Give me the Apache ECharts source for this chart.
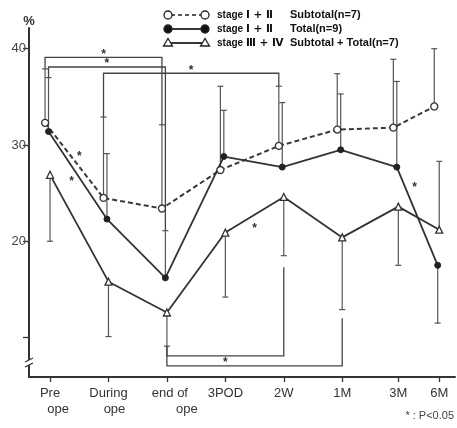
<!DOCTYPE html>
<html><head><meta charset="utf-8">
<script src="https://cdn.jsdelivr.net/npm/echarts@6/dist/echarts.min.js"></script>
<style>html,body{margin:0;padding:0;background:#fff}#c{width:457px;height:428px}</style>
</head><body><div id="c"></div>
<script>
const categories = ['Pre\nope', 'During\nope', 'end of\nope', '3POD', '2W', '1M', '3M', '6M'];
const catPos = [0, 1, 2, 3, 4, 5, 5.96, 6.66];
const yTickValues = [10, 20, 30, 40];
const yLabelValues = [20, 30, 40];
const sub12 = [32.3, 24.5, 23.4, 27.4, 29.9, 31.6, 31.8, 34.0];
const sub12Err = [37.9, 32.9, 32.1, 36.1, 36.1, 37.4, 38.9, 40.0];
const tot12 = [31.4, 22.3, 16.2, 28.8, 27.7, 29.5, 27.7, 17.5];
const tot12Err = [37.0, 29.1, 21.1, 33.6, 34.4, 35.3, 36.6, 11.5];
const st34 = [26.9, 15.8, 12.6, 20.9, 24.6, 20.4, 23.6, 21.2];
const st34Err = [20.0, 10.1, 9.1, 14.2, 18.5, 12.9, 17.5, 28.3];
const brackets = [
  {s: 'sub', from: 0, to: 2, level: 39.1, left: 37.9, right: 32.1, star: 'above'},
  {s: 'tot', from: 0, to: 2, level: 38.1, left: 37.0, right: 21.1, star: 'above'},
  {s: 'sub', from: 1, to: 4, level: 37.45, left: 32.9, right: 36.1, star: 'above'},
  {s: 'st', from: 2, to: 4, level: 8.09, left: 9.1, right: 17.3, star: 'below'},
  {s: 'st', from: 2, to: 5, level: 7.05, left: 9.1, right: 12.0, star: null}
];
const segStars = [[0.5, 29.0], [0.37, 26.4], [3.5, 21.5], [6.24, 25.8]];

const OFF = {sub: -0.085, tot: -0.026, st: 0.0};
const INK = '#333';
const chart = echarts.init(document.getElementById('c'));

function labelFmt(v) {
  const i = catPos.findIndex(p => Math.abs(p - v) < 1e-6);
  if (i < 0) return '';
  const parts = categories[i].split('\n');
  if (parts.length === 1) return '{a|' + parts[0] + '}';
  return '{a' + i + '|' + parts[0] + '}\n{b' + i + '|' + parts[1] + '}';
}
const rich = {
  a: {fontSize: 13, color: INK, fontFamily: 'Liberation Sans', lineHeight: 16},
  a0: {fontSize: 13, color: INK, fontFamily: 'Liberation Sans', lineHeight: 16},
  b0: {fontSize: 13, color: INK, fontFamily: 'Liberation Sans', lineHeight: 16, padding: [0, 0, 0, 16]},
  a1: {fontSize: 13, color: INK, fontFamily: 'Liberation Sans', lineHeight: 16},
  b1: {fontSize: 13, color: INK, fontFamily: 'Liberation Sans', lineHeight: 16, padding: [0, 0, 0, 12]},
  a2: {fontSize: 13, color: INK, fontFamily: 'Liberation Sans', lineHeight: 16, padding: [0, 0, 0, 6]},
  b2: {fontSize: 13, color: INK, fontFamily: 'Liberation Sans', lineHeight: 16, padding: [0, 0, 0, 40]}
};

function pts(vals, key) { return catPos.map((x, i) => [x + OFF[key], vals[i]]); }
function errData(vals, errs, key) { return catPos.map((x, i) => [x + OFF[key], vals[i], errs[i]]); }

function errRender(params, api) {
  const x = api.value(0);
  const p0 = api.coord([x, api.value(1)]);
  const p1 = api.coord([x, api.value(2)]);
  return {type: 'group', children: [
    {type: 'line', shape: {x1: p0[0], y1: p0[1], x2: p1[0], y2: p1[1]}, style: {stroke: '#555', lineWidth: 1.2}},
    {type: 'line', shape: {x1: p1[0] - 3, y1: p1[1], x2: p1[0] + 3, y2: p1[1]}, style: {stroke: '#555', lineWidth: 1.2}}
  ]};
}
function errSeries(vals, errs, key) {
  return {type: 'custom', renderItem: errRender, data: errData(vals, errs, key), z: 1, silent: true,
    encode: {x: 0, y: [1, 2]}};
}

function bracketRender(params, api) {
  const b = brackets[params.dataIndex];
  const xl = catPos[b.from] + OFF[b.s], xr = catPos[b.to] + OFF[b.s];
  const pL0 = api.coord([xl, b.left]), pL1 = api.coord([xl, b.level]);
  const pR1 = api.coord([xr, b.level]), pR0 = api.coord([xr, b.right]);
  const children = [{type: 'polyline', shape: {points: [pL0, pL1, pR1, pR0]},
    style: {stroke: '#444', lineWidth: 1.3, fill: null}}];
  if (b.star) {
    const mx = (pL1[0] + pR1[0]) / 2;
    const my = b.star === 'above' ? pL1[1] - 5 : pL1[1] + 5;
    children.push({type: 'text', x: mx, y: my + 2, style: {text: '*', fontSize: 12, fontWeight: 'bold',
      fill: '#333', align: 'center', verticalAlign: 'middle', fontFamily: 'Liberation Sans'}});
  }
  return {type: 'group', children: children};
}
function starRender(params, api) {
  const p = api.coord([api.value(0), api.value(1)]);
  return {type: 'text', x: p[0], y: p[1] + 2, style: {text: '*', fontSize: 12, fontWeight: 'bold',
    fill: '#333', align: 'center', verticalAlign: 'middle', fontFamily: 'Liberation Sans'}};
}

const legendRows = [
  {y: 15, kind: 'open', dash: true, t1: 'stage', t2: 'Ⅰ + Ⅱ', t3: 'Subtotal(n=7)'},
  {y: 29, kind: 'filled', dash: false, t1: 'stage', t2: 'Ⅰ + Ⅱ', t3: 'Total(n=9)'},
  {y: 43, kind: 'tri', dash: false, t1: 'stage', t2: 'Ⅲ + Ⅳ', t3: 'Subtotal + Total(n=7)'}
];
const graphics = [];
legendRows.forEach(r => {
  graphics.push({type: 'line', shape: {x1: 171, y1: r.y, x2: 202, y2: r.y},
    style: {stroke: '#222', lineWidth: r.dash ? 1.6 : 1.8, lineDash: r.dash ? [4, 3] : null}});
  [168, 205].forEach(cx => {
    if (r.kind === 'tri') {
      graphics.push({type: 'polygon', shape: {points: [[cx - 4.5, r.y + 3], [cx + 4.5, r.y + 3], [cx, r.y - 4.5]]},
        style: {fill: '#fff', stroke: '#222', lineWidth: 1.3}});
    } else {
      graphics.push({type: 'circle', shape: {cx: cx, cy: r.y, r: 4},
        style: {fill: r.kind === 'open' ? '#fff' : '#111', stroke: '#222', lineWidth: 1.3}});
    }
  });
  const ts = {fontSize: 10, fontWeight: 'bold', fill: '#111', fontFamily: 'Liberation Sans', verticalAlign: 'middle'};
  graphics.push({type: 'text', x: 217, y: r.y, style: Object.assign({text: r.t1}, ts)});
  graphics.push({type: 'text', x: 246, y: r.y, style: Object.assign({text: r.t2}, ts, {fontSize: 10.5, fontFamily: 'DejaVu Sans'})});
  graphics.push({type: 'text', x: 290, y: r.y, style: Object.assign({text: r.t3}, ts, {fontSize: 11})});
});
graphics.push({type: 'text', right: 3, top: 410, style: {text: '* : P<0.05', fontSize: 11, fill: '#444',
  fontFamily: 'Liberation Sans'}});
// axis break mark
graphics.push({type: 'rect', shape: {x: 26, y: 360, width: 7, height: 5}, style: {fill: '#fff'}, z: 100});
graphics.push({type: 'line', shape: {x1: 25, y1: 362, x2: 33, y2: 358}, style: {stroke: '#333', lineWidth: 1.3}, z: 101});
graphics.push({type: 'line', shape: {x1: 25, y1: 367, x2: 33, y2: 363}, style: {stroke: '#333', lineWidth: 1.3}, z: 101});

chart.setOption({
  animation: false,
  backgroundColor: '#fff',
  grid: {left: 29, right: 2, top: 28, bottom: 51},
  xAxis: {
    type: 'value', min: -0.36, max: 6.93,
    axisLine: {show: true, onZero: false, lineStyle: {color: INK, width: 2}},
    axisTick: {show: true, customValues: catPos, length: 5, lineStyle: {color: INK, width: 1.3}},
    axisLabel: {customValues: catPos, formatter: labelFmt, rich: rich, margin: 8, color: INK, fontSize: 13, fontFamily: 'Liberation Sans'},
    splitLine: {show: false}
  },
  yAxis: {
    type: 'value', min: 5.9, max: 42.15,
    name: '%', nameLocation: 'end', nameGap: 0,
    nameTextStyle: {fontSize: 13, color: INK, fontFamily: 'Liberation Sans', fontWeight: 'bold', align: 'center'},
    axisLine: {show: true, onZero: false, lineStyle: {color: INK, width: 2}},
    axisTick: {show: true, customValues: yTickValues, length: 6, lineStyle: {color: INK, width: 1.3}},
    axisLabel: {customValues: yLabelValues, margin: 3, color: '#444', fontSize: 13, fontFamily: 'Liberation Sans'},
    splitLine: {show: false}
  },
  graphic: graphics,
  series: [
    errSeries(sub12, sub12Err, 'sub'),
    errSeries(tot12, tot12Err, 'tot'),
    errSeries(st34, st34Err, 'st'),
    {type: 'custom', renderItem: bracketRender, data: brackets.map((b, i) => [i]), z: 1, silent: true},
    {type: 'custom', renderItem: starRender, data: segStars, z: 5, silent: true},
    {name: 'stage Ⅰ+Ⅱ Subtotal(n=7)', type: 'line', data: pts(sub12, 'sub'), z: 3,
      lineStyle: {color: '#3a3a3a', width: 2, type: [5, 3]},
      symbol: 'circle', symbolSize: 7, itemStyle: {color: '#fff', borderColor: '#333', borderWidth: 1.3}},
    {name: 'stage Ⅰ+Ⅱ Total(n=9)', type: 'line', data: pts(tot12, 'tot'), z: 3,
      lineStyle: {color: '#333', width: 1.8},
      symbol: 'circle', symbolSize: 6, itemStyle: {color: '#222', borderColor: '#222', borderWidth: 1}},
    {name: 'stage Ⅲ+Ⅳ Subtotal+Total(n=7)', type: 'line', data: pts(st34, 'st'), z: 3,
      lineStyle: {color: '#333', width: 1.8},
      symbol: 'triangle', symbolSize: 7, itemStyle: {color: '#fff', borderColor: '#333', borderWidth: 1.3}}
  ]
});
</script></body></html>
